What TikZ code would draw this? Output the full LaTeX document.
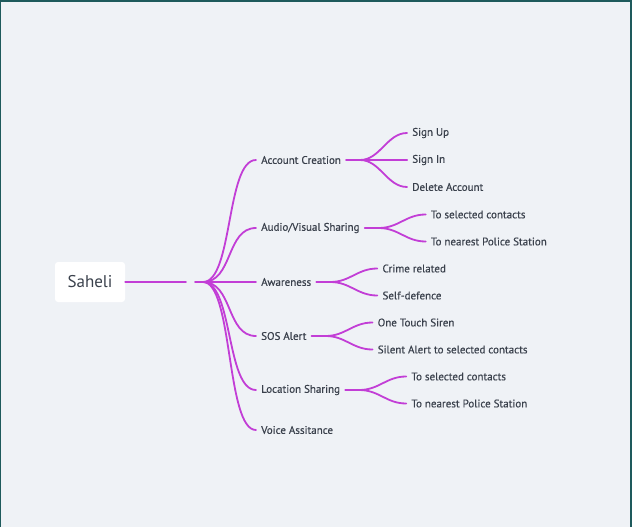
\documentclass[tikz,border=0pt]{standalone}
\usepackage{fontspec}
\setmainfont{PT Sans}
\newfontfamily\mapfont[FakeBold=0.5]{PT Sans}
\usetikzlibrary{positioning}

\definecolor{mapbg}{HTML}{EFF2F6}
\definecolor{mapframe}{HTML}{1E5A5C}
\definecolor{mapline}{HTML}{C23ED6}
\definecolor{maptext}{HTML}{3A414C}

\newcommand{\mbranch}[3]{
	\draw[branch] (#1) .. controls +(#3,0) and +(-#3,0) .. (#2);
}

\tikzset{
	branch/.style={draw=mapline, line width=1.8pt, line cap=round},
	topic/.style={font=\mapfont\fontsize{11}{13}\selectfont, text=maptext, inner xsep=5pt, inner ysep=2pt, anchor=west},
	rootbox/.style={fill=white, rounded corners=3pt, minimum width=70pt, minimum height=40pt, font=\fontsize{17}{20}\selectfont, text=maptext},
}

\begin{document}
\begin{tikzpicture}[x=1pt, y=-1pt]
\useasboundingbox (0,0) rectangle (632,527);
\fill[mapbg] (0,0) rectangle (632,527);
\fill[mapframe] (0,0) rectangle (632,2.5);
\fill[mapframe] (0,0) rectangle (1,527);
\fill[mapframe] (630,0) rectangle (632,527);

% root
\node[rootbox] (saheli) at (90,282) {Saheli};
\coordinate (rootend) at (186,282);
\coordinate (hubin) at (195,282);
\coordinate (hub) at (203,282);
\draw[branch] (saheli.east) -- (rootend);
\draw[branch] (hubin) -- (hub);

% first level
\node[topic] (acc) at (256,160) {Account Creation};
\node[topic] (avs) at (256,228) {Audio/Visual Sharing};
\node[topic] (awr) at (256,282) {Awareness};
\node[topic] (sos) at (256,336) {SOS Alert};
\node[topic] (loc) at (256,390) {Location Sharing};
\node[topic] (voice) at (256,430) {Voice Assitance};

\mbranch{hub}{acc.west}{30}
\mbranch{hub}{avs.west}{30}
\mbranch{hub}{awr.west}{30}
\mbranch{hub}{sos.west}{30}
\mbranch{hub}{loc.west}{30}
\mbranch{hub}{voice.west}{30}

% second level
\node[topic, right=61pt of acc, yshift=27pt] (signup) {Sign Up};
\node[topic, right=61pt of acc] (signin) {Sign In};
\node[topic, right=61pt of acc, yshift=-27pt] (delacc) {Delete Account};
\coordinate (acchub) at ([xshift=14pt]acc.east);
\draw[branch] (acc.east) -- (acchub);
\mbranch{acchub}{signup.west}{20}
\mbranch{acchub}{signin.west}{20}
\mbranch{acchub}{delacc.west}{20}

\node[topic, right=61pt of avs, yshift=13.5pt] (avscont) {To selected contacts};
\node[topic, right=61pt of avs, yshift=-13.5pt] (avspol) {To nearest Police Station};
\coordinate (avshub) at ([xshift=14pt]avs.east);
\draw[branch] (avs.east) -- (avshub);
\mbranch{avshub}{avscont.west}{20}
\mbranch{avshub}{avspol.west}{20}

\node[topic, right=61pt of awr, yshift=13.5pt] (crime) {Crime related};
\node[topic, right=61pt of awr, yshift=-13.5pt] (selfdef) {Self-defence};
\coordinate (awrhub) at ([xshift=14pt]awr.east);
\draw[branch] (awr.east) -- (awrhub);
\mbranch{awrhub}{crime.west}{20}
\mbranch{awrhub}{selfdef.west}{20}

\node[topic, right=61pt of sos, yshift=13.5pt] (siren) {One Touch Siren};
\node[topic, right=61pt of sos, yshift=-13.5pt] (silent) {Silent Alert to selected contacts};
\coordinate (soshub) at ([xshift=14pt]sos.east);
\draw[branch] (sos.east) -- (soshub);
\mbranch{soshub}{siren.west}{20}
\mbranch{soshub}{silent.west}{20}

\node[topic, right=61pt of loc, yshift=13.5pt] (loccont) {To selected contacts};
\node[topic, right=61pt of loc, yshift=-13.5pt] (locpol) {To nearest Police Station};
\coordinate (lochub) at ([xshift=14pt]loc.east);
\draw[branch] (loc.east) -- (lochub);
\mbranch{lochub}{loccont.west}{20}
\mbranch{lochub}{locpol.west}{20}
\end{tikzpicture}
\end{document}
